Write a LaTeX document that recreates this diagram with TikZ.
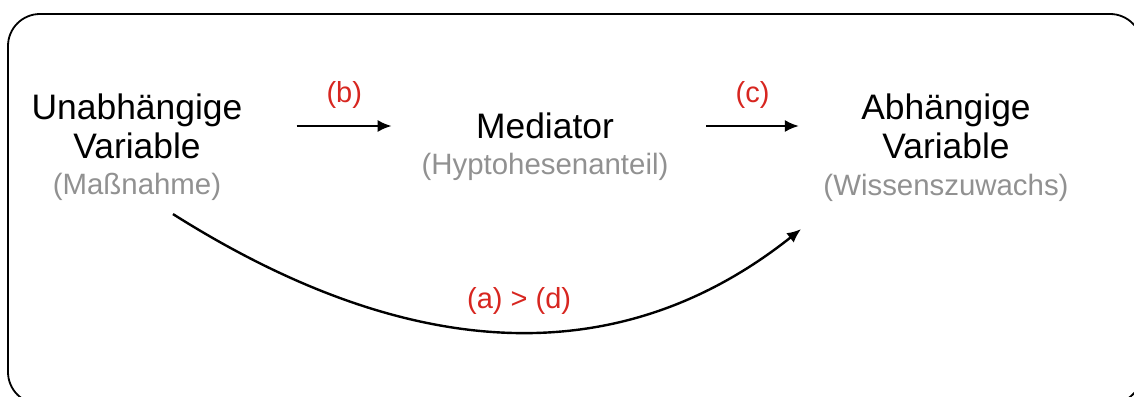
\documentclass[tikz,border=0pt]{standalone}
\usepackage{fontspec}
\setmainfont{Liberation Sans}
\usetikzlibrary{arrows.meta,positioning}
\definecolor{labelred}{RGB}{215,38,32}
\definecolor{subgray}{RGB}{145,145,145}

\begin{document}
\begin{tikzpicture}[x=0.5pt,y=-0.5pt,
var/.style={align=center, inner sep=0pt, font=\fontsize{17.7}{19.5}\selectfont},
sub/.style={text=subgray, inner sep=0pt, font=\fontsize{14.7}{17}\selectfont},
lbl/.style={text=labelred, inner sep=0pt, font=\fontsize{14.5}{17}\selectfont},
arr/.style={-{Latex[length=7pt,width=6pt]}, line width=1.2pt},
]
\useasboundingbox (0,0) rectangle (1134,396);
\draw[line width=0.9pt, rounded corners=16pt] (8,14) rectangle (1142,404);

% Variablen
\node[var] (iv) at (137,126) {Unabhängige\\Variable};
\node[var] (med) at (545,126) {Mediator};
\node[var] (dv) at (946,126) {Abhängige\\Variable};

\node[sub, below=7pt of iv] (ivsub) {(Maßnahme)};
\node[sub, below=6.5pt of med] (medsub) {(Hyptohesenanteil)};
\node[sub, below=7.5pt of dv] (dvsub) {(Wissenszuwachs)};

% Pfade
\draw[arr] ([xshift=27pt]iv.east) -- node[lbl, above=8pt]{(b)} ([xshift=-42pt]med.west);
\draw[arr] ([xshift=46pt]med.east) -- node[lbl, above=8pt]{(c)} ([xshift=-31pt]dv.west);
\draw[arr] ([shift={(36,13)}]ivsub.south) .. controls +(239,151) and +(-180,143) ..
  node[lbl, above=8pt, pos=0.5, xshift=5pt]{(a) > (d)} ([shift={(-22,27)}]dvsub.south west);

\end{tikzpicture}
\end{document}
